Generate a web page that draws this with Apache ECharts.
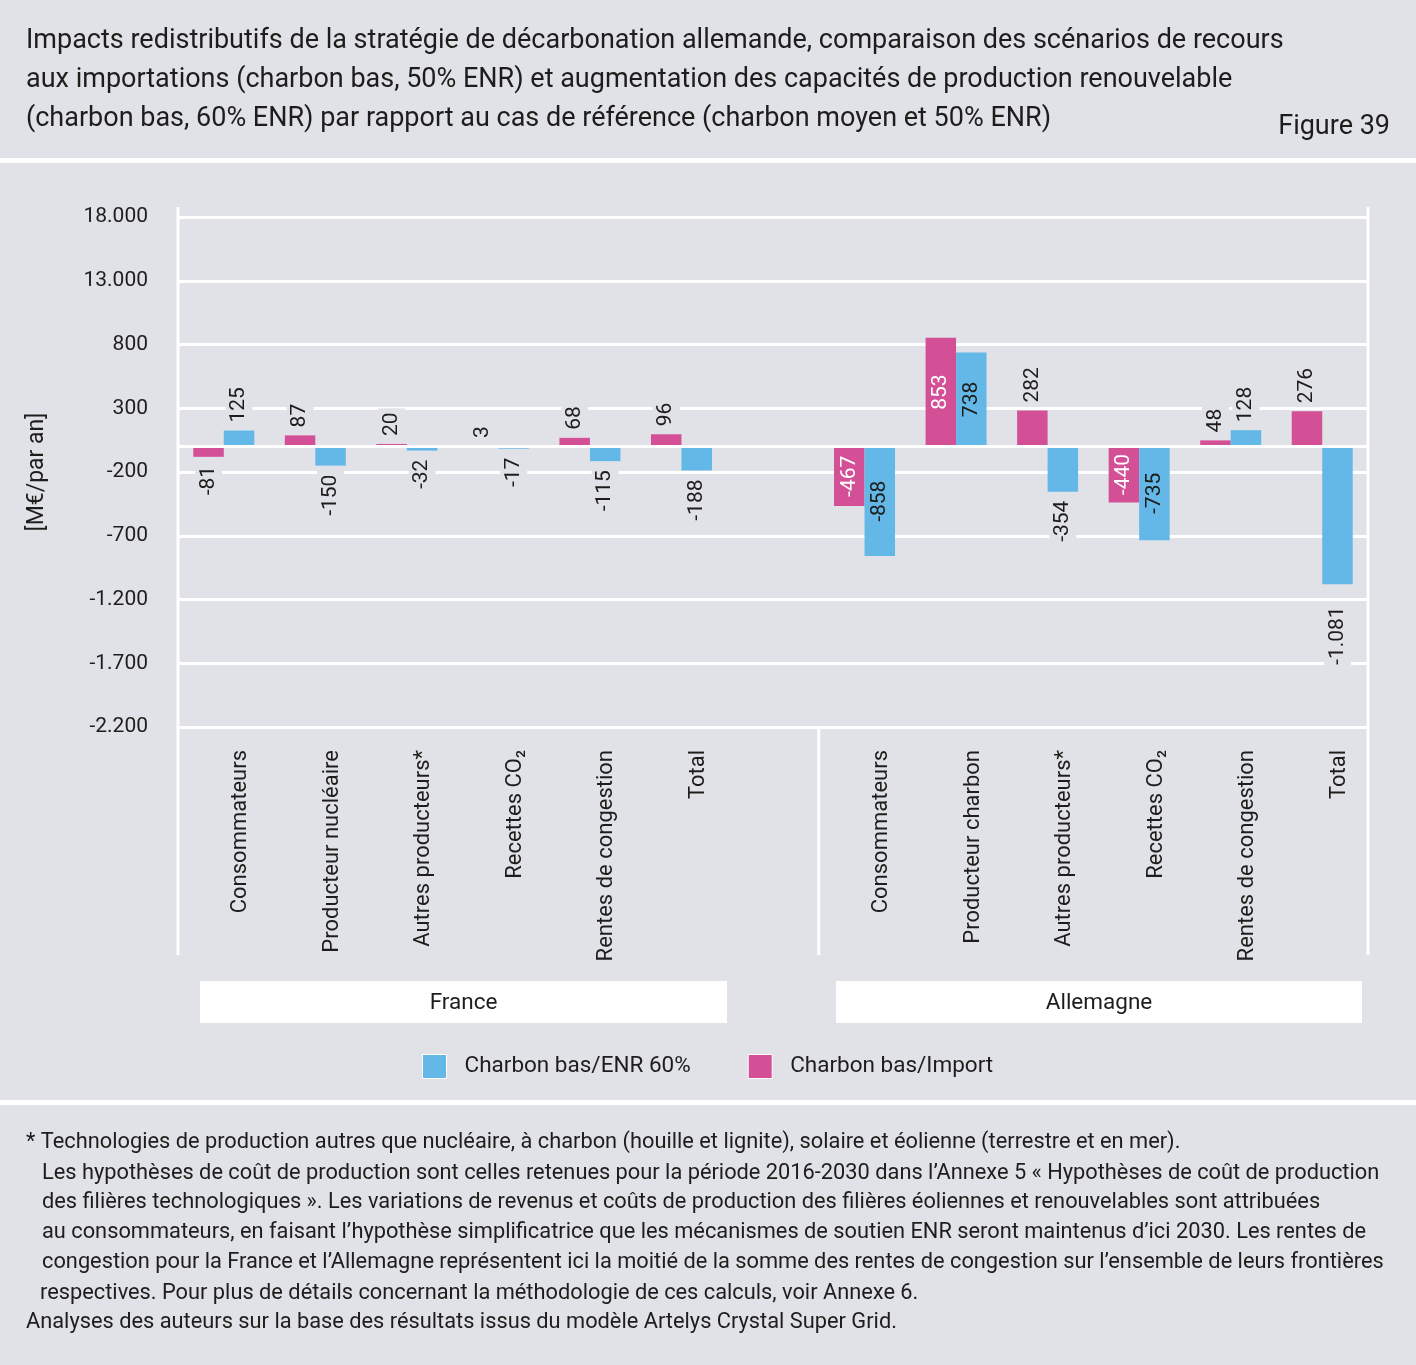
<!DOCTYPE html>
<html>
<head>
<meta charset="utf-8">
<script src="https://cdn.jsdelivr.net/npm/echarts@6/dist/echarts.min.js"></script>
<style>
  html, body { margin: 0; padding: 0; background: #e1e2e7; }
  #chart { width: 1416px; height: 1365px; }
</style>
</head>
<body>
<div id="chart"></div>
<script>
const categories = [
  'Consommateurs', 'Producteur nucléaire', 'Autres producteurs*', 'Recettes CO₂', 'Rentes de congestion', 'Total',
  '',
  'Consommateurs', 'Producteur charbon', 'Autres producteurs*', 'Recettes CO₂', 'Rentes de congestion', 'Total'
];
const importValues = [-81, 87, 20, 3, 68, 96, null, -467, 853, 282, -440, 48, 276];
const enr60Values = [125, -150, -32, -17, -115, -188, null, -858, 738, -354, -735, 128, -1081];
const seriesNames = ['Charbon bas/Import', 'Charbon bas/ENR 60%'];
const groupNames = ['France', 'Allemagne'];

// axe Y : graduations telles qu'imprimées
const yMin = -2200;
const yMax = 1800;
const yStep = 500;
const yTickLabels = ['-2.200', '-1.700', '-1.200', '-700', '-200', '300', '800', '13.000', '18.000'];

const titleLines = [
  'Impacts redistributifs de la stratégie de décarbonation allemande, comparaison des scénarios de recours',
  'aux importations (charbon bas, 50% ENR) et augmentation des capacités de production renouvelable',
  '(charbon bas, 60% ENR) par rapport au cas de référence (charbon moyen et 50% ENR)'
];
const noteLines = [
  '* Technologies de production autres que nucléaire, à charbon (houille et lignite), solaire et éolienne (terrestre et en mer).',
  'Les hypothèses de coût de production sont celles retenues pour la période 2016-2030 dans l’Annexe 5 « Hypothèses de coût de production',
  'des filières technologiques ». Les variations de revenus et coûts de production des filières éoliennes et renouvelables sont attribuées',
  'au consommateurs, en faisant l’hypothèse simplificatrice que les mécanismes de soutien ENR seront maintenus d’ici 2030. Les rentes de',
  'congestion pour la France et l’Allemagne représentent ici la moitié de la somme des rentes de congestion sur l’ensemble de leurs frontières',
  'respectives. Pour plus de détails concernant la méthodologie de ces calculs, voir Annexe 6.',
  'Analyses des auteurs sur la base des résultats issus du modèle Artelys Crystal Super Grid.'
];

const BG = '#e1e2e7';
const INK = '#1d1d1b';
const PINK = '#d45096';
const BLUE = '#63b8e8';
const FONT = 'Roboto';

const gridLeft = 178, gridRight = 48, gridTop = 217, gridBottom = 638;
const W = 1416, H = 1365;

function fmt(v) {
  const s = String(Math.abs(v)).replace(/\B(?=(\d{3})+(?!\d))/g, '.');
  return (v < 0 ? '-' : '') + s;
}

// étiquettes dans la barre pour les grandes valeurs, sauf les totaux
function barLabel(v, i, insideColor) {
  if (v == null) return { show: false };
  if (Math.abs(v) >= 400 && categories[i] !== 'Total') {
    return { position: 'inside', align: 'center', verticalAlign: 'middle',
             color: insideColor, backgroundColor: 'transparent' };
  }
  if (v >= 0) return { position: 'top', align: 'left', verticalAlign: 'middle', distance: 4 };
  return { position: 'bottom', align: 'right', verticalAlign: 'middle',
           distance: categories[i] === 'Total' && v < -1000 ? 18 : 5 };
}

function buildData(values, insideColor) {
  return values.map((v, i) => v == null ? '-' : { value: v, label: barLabel(v, i, insideColor) });
}

const chart = echarts.init(document.getElementById('chart'), null, { renderer: 'canvas' });

const plotW = W - gridLeft - gridRight;
const catW = plotW / categories.length;
const sepX = gridLeft + 7 * catW;

const lines = [
  [gridLeft, 207, gridLeft, 955],
  [W - gridRight, 207, W - gridRight, 955],
  [sepX, H - gridBottom, sepX, 955]
].map(p => ({
  type: 'line', silent: true, z: 1,
  shape: { x1: p[0], y1: p[1], x2: p[2], y2: p[3] },
  style: { stroke: '#fff', lineWidth: 3 }
}));

const groupBoxes = [
  { x: 200, w: 527, name: groupNames[0] },
  { x: 836, w: 526, name: groupNames[1] }
];

const option = {
  backgroundColor: BG,
  textStyle: { fontFamily: FONT },
  animation: false,
  title: [
    {
      text: titleLines.join('\n'),
      left: 26, top: 22, padding: 0,
      textStyle: { fontFamily: FONT, fontSize: 27, fontWeight: 'normal', color: INK, lineHeight: 39 }
    },
    {
      text: 'Figure 39',
      right: 26, top: 111, padding: 0,
      textStyle: { fontFamily: FONT, fontSize: 27, fontWeight: 'normal', color: INK, lineHeight: 33 }
    }
  ],
  legend: {
    data: [seriesNames[1], seriesNames[0]],
    left: 422, top: 1054, padding: 0,
    icon: 'rect',
    itemWidth: 24, itemHeight: 24, itemGap: 57,
    itemStyle: { borderColor: '#fff', borderWidth: 1 },
    textStyle: { fontFamily: FONT, fontSize: 22.5, color: INK, padding: [0, 0, 0, 13] }
  },
  grid: { left: gridLeft, right: gridRight, top: gridTop, bottom: gridBottom, containLabel: false },
  xAxis: {
    type: 'category',
    data: categories,
    axisLine: { show: true, onZero: false, lineStyle: { color: '#fff', width: 3 } },
    axisTick: { show: false },
    splitLine: { show: false },
    axisLabel: {
      interval: 0, rotate: 90, margin: 23,
      verticalAlign: 'top', lineHeight: 34,
      fontFamily: FONT, fontSize: 22, color: INK
    }
  },
  yAxis: {
    type: 'value',
    min: yMin, max: yMax, interval: yStep,
    name: '[M€/par an]',
    nameLocation: 'middle', nameRotate: 90, nameGap: 129,
    nameTextStyle: { fontFamily: FONT, fontSize: 23, color: INK },
    axisLine: { show: false },
    axisTick: { show: false },
    splitLine: { lineStyle: { color: '#fff', width: 3 } },
    axisLabel: {
      margin: 30, fontFamily: FONT, fontSize: 21, color: INK, padding: [4, 0, 0, 0],
      formatter: v => yTickLabels[Math.round((v - yMin) / yStep)]
    }
  },
  series: [
    {
      name: seriesNames[0],
      type: 'bar',
      barWidth: 30.5,
      barGap: '0%',
      itemStyle: { color: PINK },
      label: {
        show: true, rotate: 90, fontFamily: FONT, fontSize: 21, color: INK,
        backgroundColor: BG, padding: [3, 4, 3, 4],
        formatter: p => fmt(p.value)
      },
      markLine: {
        silent: true, symbol: 'none', label: { show: false },
        lineStyle: { color: '#fff', width: 3, type: 'solid' },
        data: [{ yAxis: 0 }]
      },
      data: buildData(importValues, '#fff')
    },
    {
      name: seriesNames[1],
      type: 'bar',
      barWidth: 30.5,
      barGap: '0%',
      itemStyle: { color: BLUE },
      label: {
        show: true, rotate: 90, fontFamily: FONT, fontSize: 21, color: INK,
        backgroundColor: BG, padding: [3, 4, 3, 4],
        formatter: p => fmt(p.value)
      },
      data: buildData(enr60Values, INK)
    }
  ],
  graphic: [
    { type: 'rect', silent: true, shape: { x: 0, y: 158, width: W, height: 5 }, style: { fill: '#fff' } },
    { type: 'rect', silent: true, shape: { x: 0, y: 1100, width: W, height: 5 }, style: { fill: '#fff' } },
    ...lines,
    ...groupBoxes.map(g => ({
      type: 'group', silent: true,
      children: [
        { type: 'rect', shape: { x: g.x, y: 981, width: g.w, height: 42 }, style: { fill: '#fff' } },
        { type: 'text', x: g.x + g.w / 2, y: 1003,
          style: { text: g.name, font: '22.5px ' + FONT, fill: INK, align: 'center', verticalAlign: 'middle' } }
      ]
    })),
    ...noteLines.map((t, i) => ({
      type: 'text', silent: true,
      x: [26, 42, 42, 42, 42, 40, 26][i],
      y: [1143, 1174, 1203, 1233, 1263, 1294, 1323][i],
      style: { text: t, font: '21.8px ' + FONT, fill: INK, verticalAlign: 'middle' }
    }))
  ]
};

chart.setOption(option);
</script>
</body>
</html>
